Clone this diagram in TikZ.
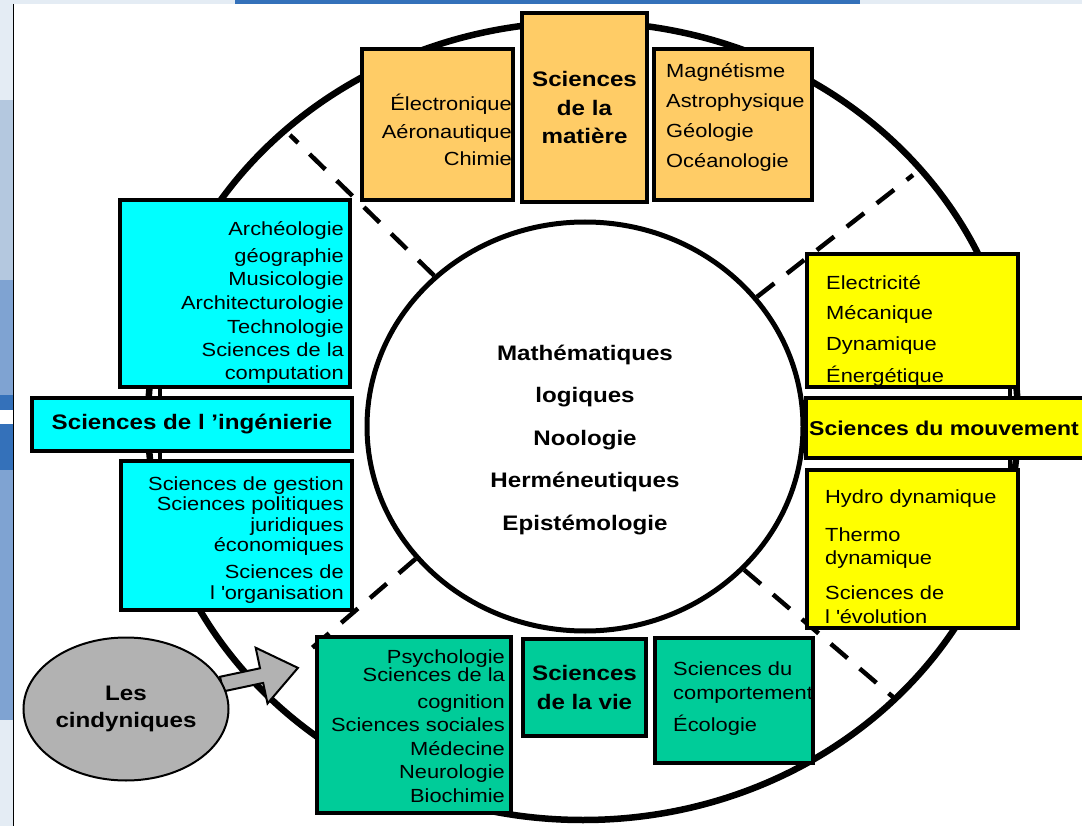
\documentclass[tikz,border=0pt]{standalone}
\usepackage{fontspec}
\setmainfont{Liberation Sans}[FakeStretch=1.15]
\usetikzlibrary{positioning}
\usetikzlibrary{calc}
\usetikzlibrary{shapes.geometric}
\usetikzlibrary{shapes.arrows}

\definecolor{matiere}{HTML}{FFCC66}
\definecolor{ingenierie}{HTML}{00FFFF}
\definecolor{mouvement}{HTML}{FFFF00}
\definecolor{vivant}{HTML}{00CC99}
\definecolor{cindy}{HTML}{B2B2B2}
\definecolor{fondclair}{HTML}{E4ECF4}
\definecolor{fondgris}{HTML}{B4C8DF}
\definecolor{fondbleu}{HTML}{7FA3D2}
\definecolor{fondfonce}{HTML}{3471BA}

\tikzset{
    boite/.style={draw, line width=3.5pt, inner sep=0pt, outer sep=0pt},
    liste/.style={font=\fontsize{19}{#1}\selectfont, inner sep=0pt},
    liste/.default=24,
    titre/.style={font=\fontsize{21}{#1}\selectfont\bfseries, inner sep=0pt, align=center},
    titre/.default=29,
    lien/.style={line width=4.5pt},
    tirets/.style={line width=4.5pt, dash pattern=on 22pt off 16pt},
}

\begin{document}
\begin{tikzpicture}[x=1pt, y=-1pt]
    \useasboundingbox (0,0) rectangle (1082,826);
    \clip (0,0) rectangle (1082,826);

    \fill[white] (0,0) rectangle (1082,826);
    \fill[fondclair] (0,0) rectangle (1082,4);
    \fill[fondfonce] (235,0) rectangle (860,4);
    \fill[fondclair] (0,0) rectangle (13,826);
    \fill[fondgris] (0,100) rectangle (13,280);
    \fill[fondbleu] (0,280) rectangle (13,395);
    \fill[fondfonce] (0,395) rectangle (13,410);
    \fill[white] (0,410) rectangle (13,424);
    \fill[fondfonce] (0,424) rectangle (13,470);
    \fill[fondbleu] (0,470) rectangle (13,720);
    \draw[line width=1.5pt] (13.5,4) -- (13.5,826);

    \draw[line width=6.5pt] (583,421) ellipse [x radius=435, y radius=399];

    \node[draw, ellipse, line width=5pt, fill=white, inner sep=0pt,
          minimum width=436, minimum height=409] (noyau) at (585,426.5) {};

    \coordinate (bord-no) at (290,135);
    \coordinate (bord-ne) at (913,175);
    \coordinate (bord-so) at (312,648);
    \coordinate (bord-se) at (893,697);

    \draw[tirets] (noyau.135) -- (bord-no);
    \draw[tirets] (noyau.37) -- (bord-ne);
    \draw[tirets] (noyau.218) -- (bord-so);
    \draw[tirets] (noyau.318) -- (bord-se);

    \node[titre=42.5, anchor=base] (t-noyau) at (585,530)
        {Mathématiques\\logiques\\Noologie\\Herméneutiques\\Epistémologie};

    % sciences de la matiere
    \node[boite, fill=matiere, minimum width=151, minimum height=151] (elec) at (437.5,124.5) {};
    \node[boite, fill=matiere, titre=28.5, minimum width=125, minimum height=189] (matiere) at (584.5,107.5)
        {Sciences\\de la\\matière};
    \node[boite, fill=matiere, minimum width=158, minimum height=151] (magn) at (733,124.5) {};

    \node[liste=27.5, align=right, anchor=base east] (t-elec) at (512,166)
        {Électronique\\Aéronautique\\Chimie};
    \node[liste=30, align=left, anchor=base west] (t-magn) at (666,168)
        {Magnétisme\\Astrophysique\\Géologie\\Océanologie};

    % sciences de l'ingenierie
    \node[boite, fill=ingenierie, minimum width=230, minimum height=187] (arch) at (235,293.5) {};
    \node[boite, fill=ingenierie, titre, minimum width=320, minimum height=53] (inge) at (192,424.5)
        {Sciences de l ’ingénierie};
    \node[boite, fill=ingenierie, minimum width=231, minimum height=149] (gest) at (236.5,535.5) {};

    \draw[lien] ([xshift=40pt]arch.south west) -- ([xshift=40pt]arch.south west |- inge.north);
    \draw[lien] ([xshift=40pt]arch.south west |- inge.south) -- ([xshift=40pt]arch.south west |- gest.north);

    \node[liste=23.5, align=right, anchor=base east] (t-arch) at (344,380)
        {Archéologie\\[3.5pt]géographie\\Musicologie\\Architecturologie\\Technologie\\Sciences de la\\computation};
    \node[liste=20.5, align=right, anchor=base east] (t-gest) at (344,599)
        {Sciences de gestion\\Sciences politiques\\juridiques\\économiques\\[6.5pt]Sciences de\\l \textquotesingle{}organisation};

    % sciences du mouvement
    \node[boite, fill=mouvement, minimum width=211, minimum height=133] (elct) at (912.5,320.5) {};
    \node[boite, fill=mouvement, minimum width=289, minimum height=60] (mouv) at (950.5,428) {};
    \node[boite, fill=mouvement, minimum width=211, minimum height=158] (hydro) at (912.5,549) {};

    \draw[lien] ([xshift=-8pt]elct.south east) -- ([xshift=-8pt]elct.south east |- mouv.north);
    \draw[lien] ([xshift=-8pt]elct.south east |- mouv.south) -- ([xshift=-8pt]elct.south east |- hydro.north);

    \node[titre, font=\fontsize{20}{29}\selectfont\bfseries, anchor=west] (t-mouv) at ([xshift=3pt]mouv.west)
        {Sciences du mouvement};
    \node[liste=31, align=left, anchor=base west] (t-elct) at (826,382)
        {Electricité\\Mécanique\\Dynamique\\Énergétique};
    \node[liste=23.5, align=left, anchor=base west] (t-hydro) at (825,623)
        {Hydro dynamique\\[14.5pt]Thermo\\dynamique\\[11.5pt]Sciences de\\l \textquotesingle{}évolution};

    % sciences de la vie
    \node[boite, fill=vivant, minimum width=194, minimum height=176] (psy) at (414,725) {};
    \node[boite, fill=vivant, titre, minimum width=123, minimum height=97] (vie) at (584.5,687.5)
        {Sciences\\de la vie};
    \node[boite, fill=vivant, minimum width=158, minimum height=125] (comp) at (734,700.5) {};

    \node[liste=23.5, align=right, anchor=base east] (t-psy) at (505,802)
        {Psychologie\\[-5.5pt]Sciences de la\\[3.5pt]cognition\\Sciences sociales\\Médecine\\Neurologie\\Biochimie};
    \node[liste=24, align=left, anchor=base west] (t-comp) at (673,731)
        {Sciences du\\comportement\\[8pt]Écologie};

    % cindyniques
    \node[single arrow, draw, fill=cindy, line width=2pt, inner sep=6.5pt,
          minimum height=78, minimum width=56, single arrow head extend=21pt,
          single arrow tip angle=75, rotate=12] (fleche) at (255,677) {};
    \node[ellipse, draw, fill=cindy, line width=2pt, titre=27, inner sep=0pt,
          minimum width=205, minimum height=143] (cind) at (126,709) {Les\\cindyniques};

\end{tikzpicture}
\end{document}
